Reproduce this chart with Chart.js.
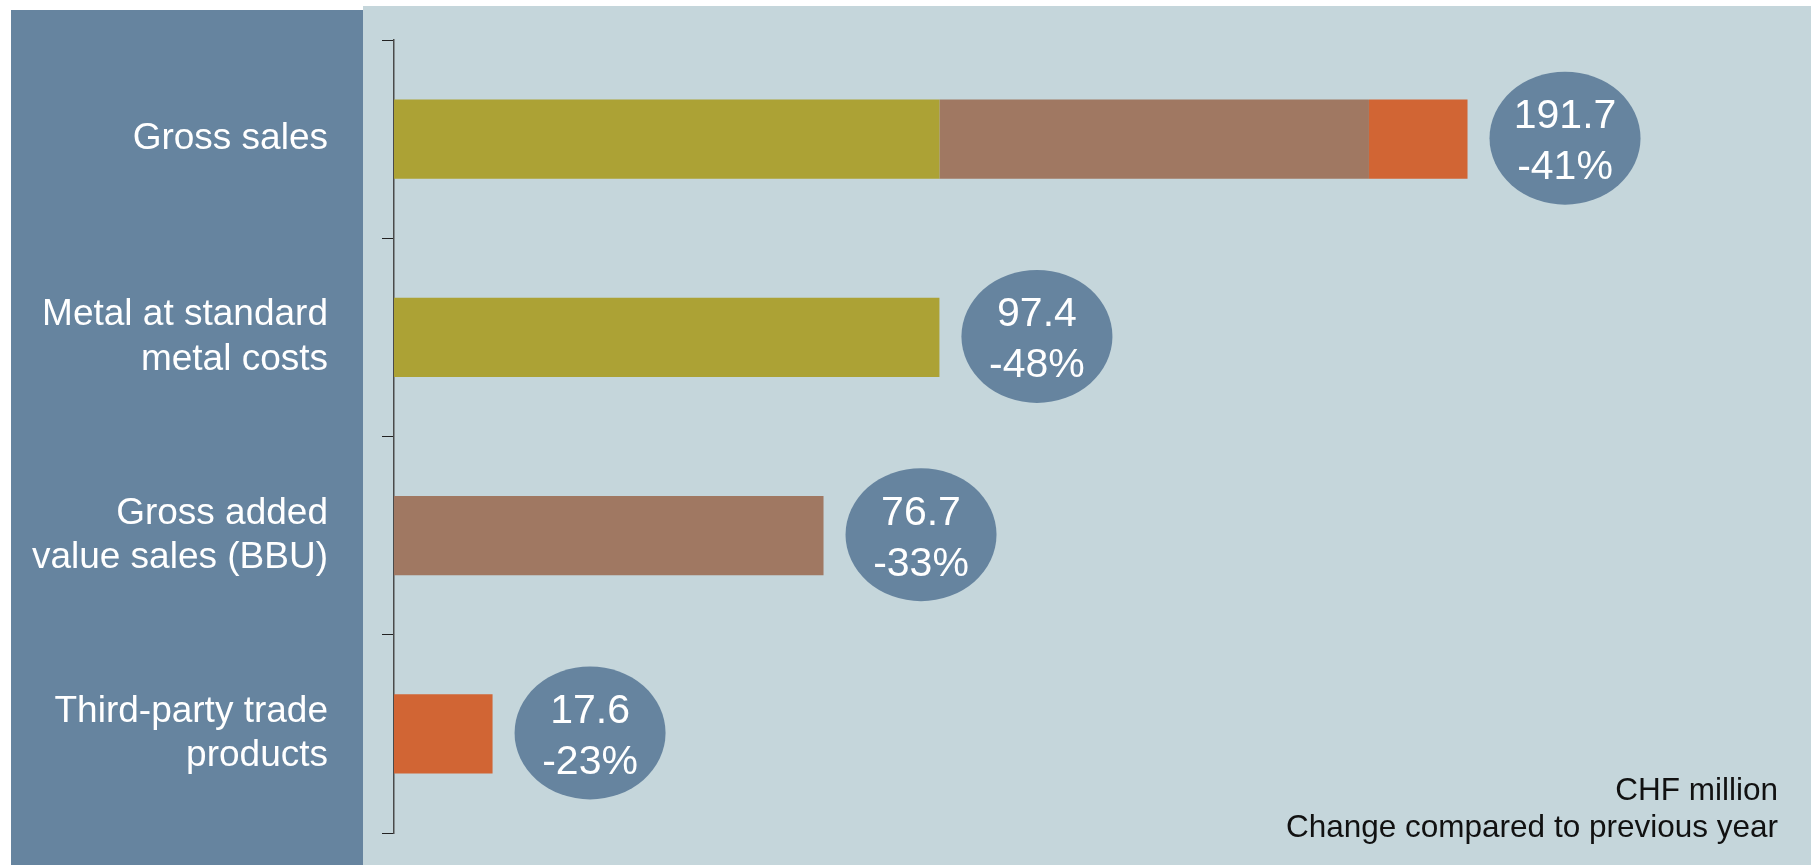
<!DOCTYPE html>
<html>
<head>
<meta charset="utf-8">
<script src="https://cdn.jsdelivr.net/npm/chart.js@4.4.1/dist/chart.umd.min.js"></script>
<style>
  body { margin: 0; background: #fff; }
  canvas { display: block; }
</style>
</head>
<body>
<canvas id="salesChart" width="1814" height="865"></canvas>
<script>
// Categories (y axis)
const categories = [
    'Gross sales',
    ['Metal at standard', 'metal costs'],
    ['Gross added', 'value sales (BBU)'],
    ['Third-party trade', 'products']
];

// Stacked series, CHF million
const metalValues = [97.4, 97.4, null, null];
const valueAddedValues = [76.7, null, 76.7, null];
const tradeValues = [17.6, null, null, 17.6];

// Bubble labels
const totals = ['191.7', '97.4', '76.7', '17.6'];
const changes = ['-41%', '-48%', '-33%', '-23%'];

const noteLines = ['CHF million', 'Change compared to previous year'];

const FONT = '"Liberation Sans", Arial, sans-serif';

// Panels behind the chart
const panelsPlugin = {
    id: 'panels',
    beforeDraw(chart) {
        const ctx = chart.ctx;
        ctx.save();
        ctx.fillStyle = '#ffffff';
        ctx.fillRect(0, 0, chart.width, chart.height);
        ctx.fillStyle = '#c5d6db';
        ctx.fillRect(363, 6, 1448, chart.height - 6);
        ctx.fillStyle = '#66849f';
        ctx.fillRect(11, 10, 352, chart.height - 10);
        ctx.restore();
    }
};

// Ellipses with total + change, and the note at the bottom right
const bubblePlugin = {
    id: 'bubbles',
    afterDraw(chart) {
        const ctx = chart.ctx;
        const xScale = chart.scales.x;
        const yScale = chart.scales.y;
        ctx.save();
        categories.forEach((c, i) => {
            const sum = (metalValues[i] || 0) + (valueAddedValues[i] || 0) + (tradeValues[i] || 0);
            const rx = 75.5, ry = 66.5;
            const cx = xScale.getPixelForValue(sum) + 22 + rx;
            const cy = yScale.getPixelForValue(i) - 1;
            ctx.fillStyle = '#66849f';
            ctx.beginPath();
            ctx.ellipse(cx, cy, rx, ry, 0, 0, Math.PI * 2);
            ctx.fill();
            ctx.fillStyle = '#ffffff';
            ctx.font = '41px ' + FONT;
            ctx.textAlign = 'center';
            ctx.textBaseline = 'alphabetic';
            ctx.fillText(totals[i], cx, cy - 10);
            ctx.fillText(changes[i], cx, cy + 41);
        });

        ctx.fillStyle = '#111111';
        ctx.font = '31.5px ' + FONT;
        ctx.textAlign = 'right';
        ctx.fillText(noteLines[0], 1778, 800);
        ctx.fillText(noteLines[1], 1778, 837);
        ctx.restore();
    }
};

const ctx = document.getElementById('salesChart').getContext('2d');
new Chart(ctx, {
    type: 'bar',
    data: {
        labels: categories,
        datasets: [
            { label: 'Metal', data: metalValues, backgroundColor: '#aca235' },
            { label: 'Value added', data: valueAddedValues, backgroundColor: '#a07862' },
            { label: 'Third-party trade', data: tradeValues, backgroundColor: '#d16534' }
        ]
    },
    options: {
        indexAxis: 'y',
        responsive: false,
        animation: false,
        layout: { padding: { top: 40, bottom: 32, left: 0, right: 20 } },
        datasets: {
            bar: { barPercentage: 0.4, categoryPercentage: 1 }
        },
        scales: {
            x: {
                display: false,
                stacked: true,
                min: 0,
                max: 250
            },
            y: {
                stacked: true,
                afterFit(scale) {
                    scale.width = 394;
                    scale.paddingTop = 0;
                    scale.paddingBottom = 0;
                },
                border: { display: true, color: '#4a4a4a', width: 1.5 },
                grid: {
                    drawOnChartArea: false,
                    drawTicks: true,
                    tickLength: 12,
                    color: '#222222'
                },
                ticks: {
                    color: '#ffffff',
                    padding: 54,
                    font: { family: FONT, size: 37, lineHeight: 1.2 }
                }
            }
        },
        plugins: {
            legend: { display: false },
            tooltip: { enabled: false }
        }
    },
    plugins: [panelsPlugin, bubblePlugin]
});
</script>
</body>
</html>
